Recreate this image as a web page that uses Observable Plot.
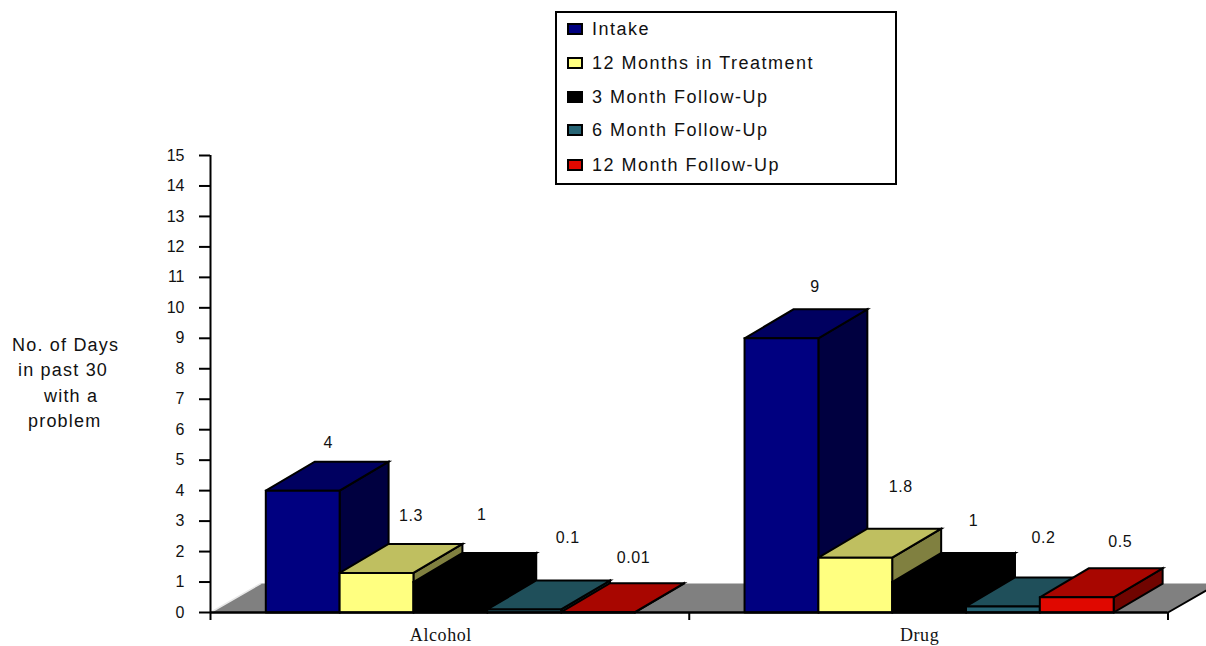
<!DOCTYPE html>
<html>
<head>
<meta charset="utf-8">
<script src="https://cdn.jsdelivr.net/npm/d3@7"></script>
<script src="https://cdn.jsdelivr.net/npm/@observablehq/plot@0.6"></script>
<style>
  html, body { margin: 0; padding: 0; background: #fff; }
  #chart { position: relative; width: 1206px; height: 646px; overflow: hidden; }
  #chart svg { position: absolute; left: 0; top: 0; }
  .sans { font-family: "Liberation Sans", sans-serif; color: #111; }
  #legend { position: absolute; left: 555px; top: 11px; width: 338px; height: 170px; border: 2px solid #000; background: #fff; }
  #legend .row { position: absolute; left: 10px; display: flex; align-items: center; height: 20px; font-size: 18px; letter-spacing: 1.5px; white-space: pre; }
  #legend .swatch { box-sizing: border-box; width: 16px; height: 12px; border: 2px solid #000; margin-right: 9px; }
  .ytitle { position: absolute; font-size: 18px; letter-spacing: 1.2px; line-height: 20px; white-space: pre; }
  .value-label text { letter-spacing: 0.6px; }
  .category-label text { letter-spacing: 0.6px; }
</style>
</head>
<body>
<div id="chart"></div>
<script>
// Days with a problem, by substance and assessment point
const categories = ["Alcohol", "Drug"];
const seriesNames = ["Intake", "12 Months in Treatment", "3 Month Follow-Up", "6 Month Follow-Up", "12 Month Follow-Up"];
const alcoholValues = [4, 1.3, 1, 0.1, 0.01];
const drugValues = [9, 1.8, 1, 0.2, 0.5];
const valueLabels = [["4", "1.3", "1", "0.1", "0.01"], ["9", "1.8", "1", "0.2", "0.5"]];
const yTicks = d3.range(0, 16);
const yTitleLines = ["No. of Days", "in past 30", "with a", "problem"];

// Face colours per series: front, top, side
const frontColors = ["#000080", "#FFFF80", "#000000", "#266474", "#E00800"];
const topColors = ["#000060", "#BFBF60", "#000000", "#1F4F5A", "#A80600"];
const sideColors = ["#000040", "#808040", "#000000", "#14363E", "#700400"];

// Bar geometry in scale units: one category spans 1 on x
const groupInset = 0.1155;
const barWidth = 0.1542;
const depthX = 0.1023;
const depthY = 0.95;

const values = [alcoholValues, drugValues];
const faces = [];
const addFace = (key, fill, corners) => {
  for (const [x, y] of [...corners, corners[0]]) faces.push({key, fill, x, y});
};
categories.forEach((_, c) => {
  values[c].forEach((v, s) => {
    const x0 = c + groupInset + s * barWidth;
    const x1 = x0 + barWidth;
    addFace(`${c}-${s}-side`, sideColors[s], [[x1, 0], [x1 + depthX, depthY], [x1 + depthX, v + depthY], [x1, v]]);
    addFace(`${c}-${s}-top`, topColors[s], [[x0, v], [x0 + depthX, v + depthY], [x1 + depthX, v + depthY], [x1, v]]);
    addFace(`${c}-${s}-front`, frontColors[s], [[x0, 0], [x1, 0], [x1, v], [x0, v]]);
  });
});

// Hand placement of each value label relative to its bar's top, in pixels
const labelNudge = [
  [[1, -19], [10, -28], [7, -38], [19, -43], [11, -25]],
  [[9, -22], [21, -42], [20, -32], [16, -40], [19, -26]]
];
const labelMarks = [];
categories.forEach((_, c) => {
  values[c].forEach((v, s) => {
    const [dx, dy] = labelNudge[c][s];
    labelMarks.push(Plot.text([valueLabels[c][s]], {
      x: () => c + groupInset + (s + 0.5) * barWidth + depthX / 2,
      y: () => v + depthY,
      text: d => d, dx, dy,
      className: "value-label",
      fontFamily: "Liberation Sans", fontSize: 16, fill: "#111"
    }));
  });
});

const floorDepthX = 0.105;
const floorRight = 2 + floorDepthX;
const floor = [[0, 0], [floorDepthX, depthY], [floorRight, depthY], [2, 0], [0, 0]];

const plot = Plot.plot({
  width: 1206,
  height: 646,
  marginLeft: 210,
  marginRight: 38,
  marginTop: 155,
  marginBottom: 34,
  x: {domain: [0, 2], range: [210, 1167.5], axis: null},
  y: {domain: [0, 15], range: [612, 155], axis: null},
  style: {background: "transparent"},
  marks: [
    Plot.line(floor, {x: d => d[0], y: d => d[1], fill: "#808080", stroke: "none"}),
    Plot.line([floor[0], floor[1]], {x: d => d[0], y: d => d[1], stroke: "#e8e8e8", strokeWidth: 1.5}),
    Plot.line([floor[3], floor[2]], {x: d => d[0], y: d => d[1], stroke: "#000", strokeWidth: 2}),
    Plot.line(faces, {
      x: "x", y: "y", z: "key",
      fill: {value: "fill", scale: null},
      stroke: "#000", strokeWidth: 2,
      strokeLinejoin: "miter", strokeMiterlimit: 4
    }),
    ...labelMarks,
    Plot.ruleX([0], {y1: 0, y2: 15, stroke: "#000", strokeWidth: 2}),
    Plot.ruleY([0], {x1: 0, x2: 2, stroke: "#000", strokeWidth: 2.5}),
    Plot.axisY({
      ticks: yTicks, tickFormat: d => d, tickSize: 11, tickPadding: 15, label: null,
      fontFamily: "Liberation Sans", fontSize: 16, strokeWidth: 2, stroke: "#000", color: "#111"
    }),
    Plot.axisX({ticks: [0, 1, 2], tickFormat: () => "", tickSize: 8, label: null, strokeWidth: 2, stroke: "#000"}),
    Plot.axisX({
      ticks: [0.5, 1.5], tickFormat: d => categories[Math.floor(d)], tickSize: 0, tickPadding: 16, dx: -9, label: null,
      className: "category-label",
      fontFamily: "Liberation Serif", fontSize: 18, color: "#111"
    })
  ]
});

const chart = document.getElementById("chart");
chart.appendChild(plot);

// Legend box, laid over the plot
const legend = document.createElement("div");
legend.id = "legend";
legend.className = "sans";
const rowCentres = [16, 50, 84, 117, 152];
seriesNames.forEach((name, i) => {
  const row = document.createElement("div");
  row.className = "row";
  row.style.top = `${rowCentres[i] - 10}px`;
  const swatch = document.createElement("span");
  swatch.className = "swatch";
  swatch.style.background = frontColors[i];
  row.appendChild(swatch);
  row.appendChild(document.createTextNode(name));
  legend.appendChild(row);
});
chart.appendChild(legend);

// Y axis title, one line at a time
const titleLefts = [12, 18, 44, 28];
const titleTops = [335, 360, 386, 411];
yTitleLines.forEach((line, i) => {
  const el = document.createElement("div");
  el.className = "ytitle sans";
  el.style.left = `${titleLefts[i]}px`;
  el.style.top = `${titleTops[i]}px`;
  el.textContent = line;
  chart.appendChild(el);
});
</script>
</body>
</html>
